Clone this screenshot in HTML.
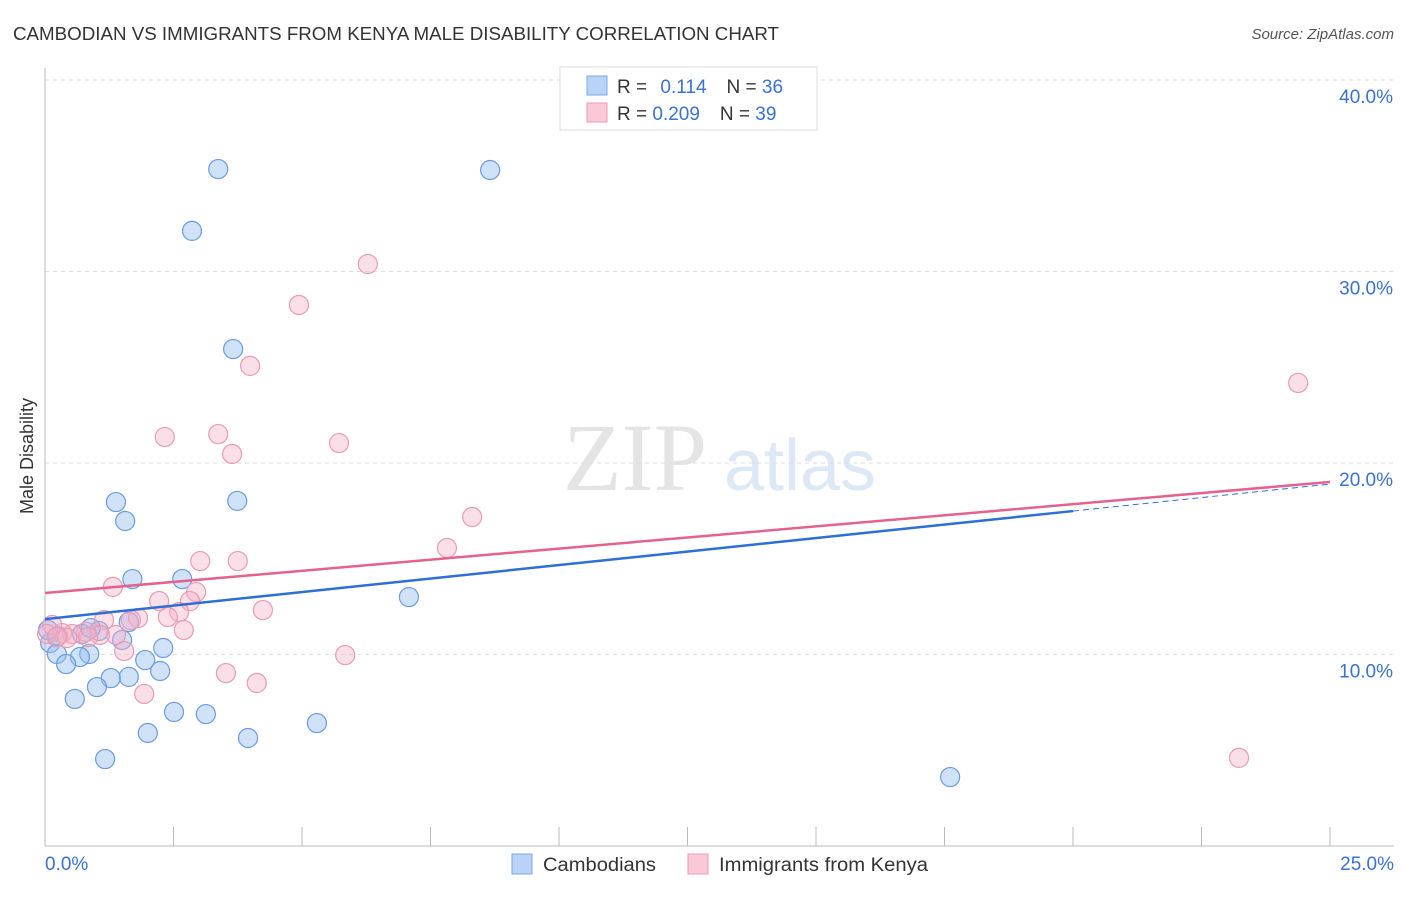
<!DOCTYPE html>
<html><head><meta charset="utf-8"><style>
body{margin:0;background:#fff;font-family:"Liberation Sans",sans-serif;}
</style></head><body>
<svg id="chart" width="1406" height="892" xmlns="http://www.w3.org/2000/svg" style="font-family:'Liberation Sans',sans-serif">
<text x="13" y="40" font-size="18" fill="#333" textLength="766" lengthAdjust="spacingAndGlyphs">CAMBODIAN VS IMMIGRANTS FROM KENYA MALE DISABILITY CORRELATION CHART</text>
<text x="1394" y="39" font-size="15" fill="#555" text-anchor="end" font-style="italic">Source: ZipAtlas.com</text>
<g>
<text x="635" y="490" font-size="96" fill="#e4e4e4" text-anchor="middle" font-family="Liberation Serif,serif">ZIP</text>
<text x="800" y="490" font-size="72" fill="#dde8f6" text-anchor="middle">atlas</text>
</g>
<g id="grid"></g>
<g id="axes"></g>
<g id="marks"></g>
<g>
<rect x="560" y="67" width="257" height="63" fill="#fff" stroke="#ddd"/>
<rect x="587" y="76" width="20" height="19" fill="#b8d3f5" stroke="#7fa9e4"/>
<rect x="587" y="103" width="20" height="19" fill="#fbc8d8" stroke="#ef9ab6"/>
<text x="617" y="93" font-size="19" fill="#333">R = <tspan fill="#3a72cc" dx="8">0.114</tspan><tspan dx="20" fill="#333">N = </tspan><tspan fill="#3a72cc">36</tspan></text>
<text x="617" y="120" font-size="19" fill="#333">R = <tspan fill="#3a72cc">0.209</tspan><tspan dx="20" fill="#333">N = </tspan><tspan fill="#3a72cc">39</tspan></text>
</g>
<g>
<rect x="512" y="854" width="20" height="20" fill="#b8d3f5" stroke="#7fa9e4"/>
<text x="543" y="871" font-size="19" fill="#333" textLength="113" lengthAdjust="spacingAndGlyphs">Cambodians</text>
<rect x="688" y="854" width="20" height="20" fill="#fbc8d8" stroke="#ef9ab6"/>
<text x="719" y="871" font-size="19" fill="#333" textLength="209" lengthAdjust="spacingAndGlyphs">Immigrants from Kenya</text>
</g>
<text transform="translate(33,456) rotate(-90)" font-size="18" fill="#333" text-anchor="middle">Male Disability</text>
</svg>
<script>
const yTicks=[10,20,30,40];
const yTickLabels=["10.0%","20.0%","30.0%","40.0%"];
const xTickLabels=["0.0%","25.0%"];
const blueX=[3.37,8.66,2.86,3.66,1.38,3.74,1.56,1.70,2.67,7.08,1.63,1.05,0.72,1.50,0.10,0.23,0.86,0.68,0.41,1.95,2.30,2.24,1.63,1.28,1.01,0.58,2.51,3.13,5.29,2.00,3.95,1.17,17.61,0.25,0.06,0.89];
const blueY=[35.35,35.30,32.12,25.95,17.96,18.02,16.97,13.94,13.94,13.00,11.70,11.23,11.07,10.76,10.60,10.03,10.03,9.87,9.50,9.71,10.34,9.14,8.83,8.77,8.30,7.68,7.00,6.89,6.42,5.90,5.64,4.54,3.60,10.97,11.28,11.38];
const pinkX=[6.28,4.94,3.99,3.37,2.33,5.72,3.64,8.31,7.82,3.02,3.75,1.32,2.94,2.22,2.82,2.61,4.24,2.39,1.81,1.67,1.15,2.70,1.38,1.07,0.80,0.53,0.33,0.14,0.04,1.54,5.84,3.52,4.12,1.93,24.38,23.23,0.84,0.43,0.23];
const pinkY=[30.39,28.25,25.07,21.51,21.36,21.04,20.47,17.18,15.56,14.88,14.88,13.53,13.26,12.79,12.79,12.22,12.32,11.96,11.91,11.80,11.80,11.28,11.02,11.02,11.18,11.07,11.12,11.54,11.07,10.18,9.97,9.03,8.51,7.94,24.18,4.60,10.91,10.86,10.91];
const blueTrend=[11.85,0.282];
const pinkTrend=[13.21,0.232];
const NS="http://www.w3.org/2000/svg";
const X=v=>45+v/25*1285, Y=v=>846-v*19.15;
function mk(t,a,p){const e=document.createElementNS(NS,t);for(const k in a)e.setAttribute(k,a[k]);p.appendChild(e);return e;}
const grid=document.getElementById('grid'),axes=document.getElementById('axes'),marks=document.getElementById('marks');
yTicks.forEach((t,i)=>{
 const l=mk('line',{x1:45,x2:1394,y1:Y(t),y2:Y(t),stroke:'#ddd','stroke-dasharray':'4,4'},grid);
 
 
 const tx=mk('text',{x:1393,y:Y(t)+23,'font-size':19,fill:'#3a72cc','text-anchor':'end'},axes);
 tx.textContent=yTickLabels[i];
 
 
});
mk('line',{x1:45,x2:45,y1:68,y2:846,stroke:'#bbb'},axes);
mk('line',{x1:45,x2:1394,y1:846,y2:846,stroke:'#bbb'},axes);
for(let i=0;i<=10;i++){const tk=mk('line',{x1:X(i*2.5),x2:X(i*2.5),y1:827,y2:846,stroke:'#bbb'},axes);
 
 }
[[0,'start',45],[25,'end',1394]].forEach((d,i)=>{const t=mk('text',{x:d[2],y:870,'font-size':19,fill:'#3a72cc','text-anchor':d[1]},axes);t.textContent=xTickLabels[i];
 
 });
function dots(xs,ys,fill,stroke,name){xs.forEach((x,i)=>{const c=mk('circle',{cx:X(x),cy:Y(ys[i]),r:9.5,fill:fill,stroke:stroke,'stroke-width':1.2},marks);
 
 });}
dots(blueX,blueY,'rgba(150,190,240,0.45)','#6a9be0','cambodian-point');
dots(pinkX,pinkY,'rgba(246,175,198,0.4)','#eb9ab4','kenya-point');
const b1=mk('line',{x1:X(0),y1:Y(blueTrend[0]),x2:X(20),y2:Y(blueTrend[0]+20*blueTrend[1]),stroke:'#2d6fd6','stroke-width':2.5},marks);


const b2=mk('line',{x1:X(20),y1:Y(blueTrend[0]+20*blueTrend[1]),x2:X(25),y2:Y(blueTrend[0]+25*blueTrend[1]),stroke:'#2d6fd6','stroke-width':1,'stroke-dasharray':'6,4'},marks);


const p1=mk('line',{x1:X(0),y1:Y(pinkTrend[0]),x2:X(25),y2:Y(pinkTrend[0]+25*pinkTrend[1]),stroke:'#e4628e','stroke-width':2.5},marks);


</script>
</body></html>
